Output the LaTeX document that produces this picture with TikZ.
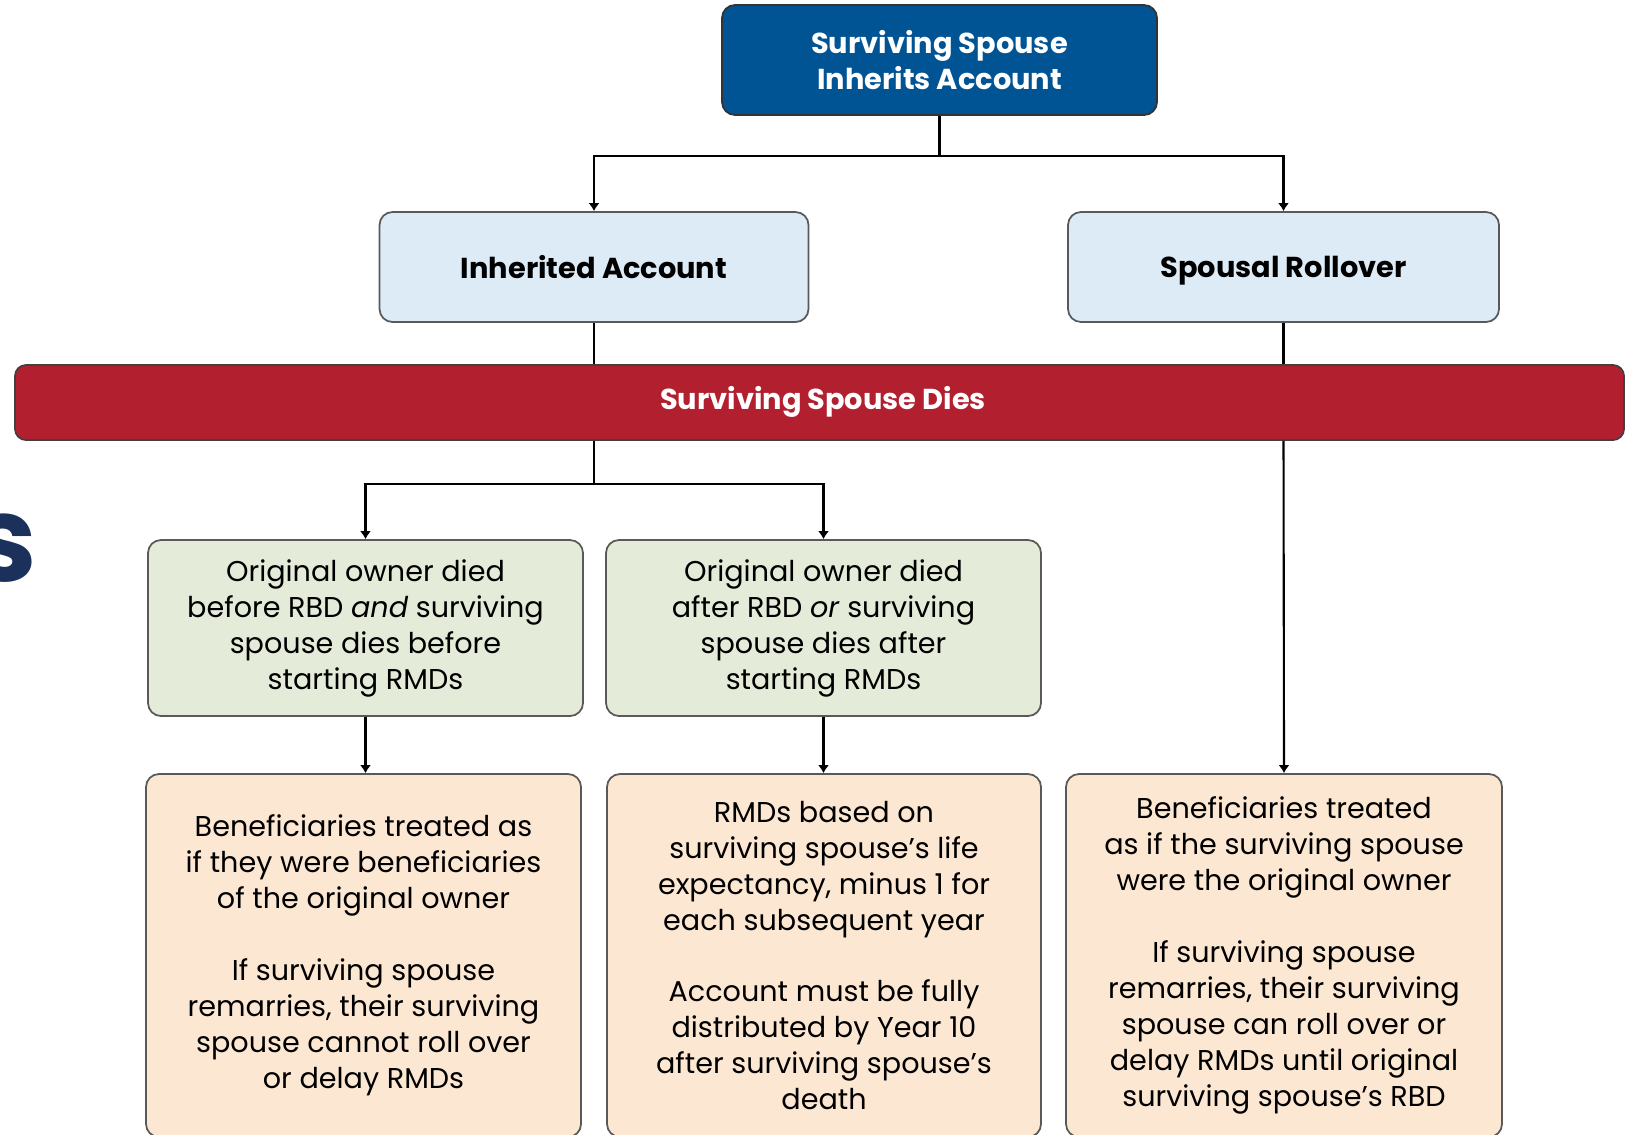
\documentclass[tikz,border=0pt]{standalone}
\usepackage{fontspec}
\setmainfont{Poppins}
\usetikzlibrary{arrows.meta}

\begin{document}
\begin{tikzpicture}[
    box/.style={draw=black!65, line width=0.5pt, rounded corners=0.13cm, align=center, inner sep=0pt},
    title/.style={box, font=\fontsize{8.2}{10.3}\selectfont\bfseries},
    body/.style={box, font=\fontsize{8.15}{10.24}\selectfont},
    link/.style={line width=0.6pt, -{Latex[length=0.8mm,width=1.1mm]}}
  ]
            \xdefinecolor{spouseblue}{RGB}{0, 84, 147}
            \xdefinecolor{pathblue}{RGB}{221, 235, 247}
            \xdefinecolor{diesred}{RGB}{178, 32, 48}
            \xdefinecolor{casegreen}{RGB}{228, 236, 217}
            \xdefinecolor{ruleorange}{RGB}{252, 231, 210}
            \xdefinecolor{headnavy}{RGB}{28, 48, 92}
            \useasboundingbox (0,0) rectangle (16.26,-11.34);

            % Cut off heading letter on the left
            \node[anchor=base east, inner sep=0pt, text=headnavy, font=\fontsize{34}{34}\selectfont\bfseries] (Heading) at (0.38,-5.81) {s};

            % Draw top box
            \node[title, fill=spouseblue, draw=black!80, text=white, minimum width=4.35cm, minimum height=1.10cm] (Spouse) at (9.395,-0.60) {Surviving Spouse\\Inherits Account};

            % Draw the two choices
            \node[title, fill=pathblue, text depth=0pt, minimum width=4.29cm, minimum height=1.10cm] (Inherited) at (5.94,-2.67) {Inherited Account};
            \node[title, fill=pathblue, text depth=0pt, minimum width=4.31cm, minimum height=1.10cm] (Rollover) at (12.835,-2.67) {Spousal Rollover};
            \draw[link] (Spouse.south) -- ++(0,-0.40) -| (Inherited.north);
            \draw[link] (Spouse.south) -- ++(0,-0.40) -| (Rollover.north);

            % Red bar across the picture
            \node[title, fill=diesred, draw=black!75, text=white, rounded corners=0.11cm, minimum width=16.09cm, minimum height=0.75cm] (Dies) at (8.195,-4.025) {\hspace*{0.07cm}Surviving Spouse Dies\strut};

            % Cases under inherited account
            \node[body, fill=casegreen, minimum width=4.35cm, minimum height=1.76cm] (BeforeRBD) at (3.655,-6.28) {Original owner died\\before RBD \textit{and} surviving\\spouse dies before\\starting RMDs};
            \node[body, fill=casegreen, minimum width=4.35cm, minimum height=1.76cm] (AfterRBD) at (8.235,-6.28) {Original owner died\\after RBD \textit{or} surviving\\spouse dies after\\starting RMDs};
            \draw[line width=0.6pt] (Inherited.south) -- (Inherited.south |- Dies.north);
            \draw[link] (Inherited.south |- Dies.south) -- ++(0,-0.43) -| (BeforeRBD.north);
            \draw[link] (Inherited.south |- Dies.south) -- ++(0,-0.43) -| (AfterRBD.north);

            % Bottom row of rules
            \node[body, fill=ruleorange, minimum width=4.35cm, minimum height=3.63cm] (OwnerBenef) at (3.635,-9.555) {Beneficiaries treated as\\if they were beneficiaries\\of the original owner\\[10.24pt]If surviving spouse\\remarries, their surviving\\spouse cannot roll over\\or delay RMDs};
            \node[body, fill=ruleorange, minimum width=4.34cm, minimum height=3.63cm] (LifeExp) at (8.24,-9.555) {RMDs based on\\surviving spouse’s life\\expectancy, minus 1 for\\each subsequent year\\[10.24pt]Account must be fully\\distributed by Year 10\\after surviving spouse’s\\death};
            \node[body, fill=ruleorange, minimum width=4.36cm, minimum height=3.63cm] (SpouseOwner) at (12.84,-9.555) {Beneficiaries treated\\as if the surviving spouse\\were the original owner\\[10.24pt]If surviving spouse\\remarries, their surviving\\spouse can roll over or\\delay RMDs until original\\surviving spouse’s RBD};
            \draw[link] (BeforeRBD.south) -- (BeforeRBD.south |- OwnerBenef.north);
            \draw[link] (AfterRBD.south) -- (AfterRBD.south |- LifeExp.north);
            \draw[line width=0.6pt] (Rollover.south) -- (Rollover.south |- Dies.north);
            \draw[link] (Rollover.south |- Dies.south) -- (SpouseOwner.north);

        \end{tikzpicture}
\end{document}
